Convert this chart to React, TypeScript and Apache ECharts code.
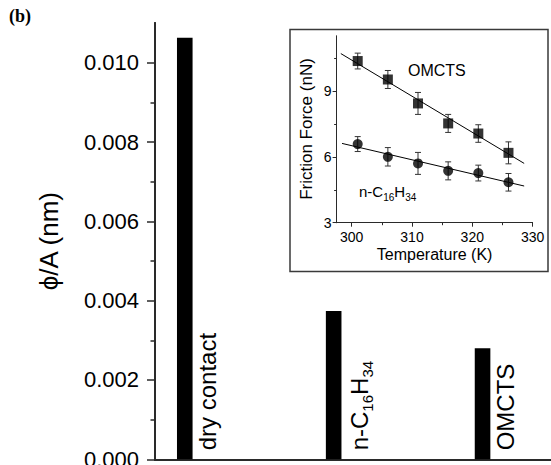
import React, { useEffect, useRef } from 'react';
import * as echarts from 'echarts';

// ---- main bar chart data ----
const barCategories = ['dry contact', 'n-C16H34', 'OMCTS'];
const barPositions = [1, 2, 3];
const barValues = [0.01063, 0.00374, 0.0028];
const mainYTicks = [0, 0.002, 0.004, 0.006, 0.008, 0.01];
const mainYMinorTicks = [0.001, 0.003, 0.005, 0.007, 0.009];

// ---- inset data ----
const insetTemps = [301, 306, 311, 316, 321, 326];
const omctsForce = [10.36, 9.52, 8.43, 7.52, 7.06, 6.18];
const omctsErr = [0.36, 0.41, 0.5, 0.41, 0.4, 0.5];
const hexaForce = [6.58, 6.0, 5.7, 5.36, 5.26, 4.84];
const hexaErr = [0.34, 0.42, 0.5, 0.41, 0.36, 0.4];
const omctsFit = [[298.2, 10.7], [328.6, 5.7]];
const hexaFit = [[298.4, 6.61], [328.6, 4.67]];
const insetXTicks = [300, 310, 320, 330];
const insetXMinor = [305, 315, 325];
const insetYTicks = [3, 6, 9];
const insetYMinor = [4.5, 7.5, 10.5];

const FONT = '"Liberation Sans", Arial, Helvetica, sans-serif';
const AXIS = '#2a2a2a';

const toRich = (s: string) => s.replace(/(\d+)/g, '{s|$1}');

function errorBars(values: number[], errs: number[]) {
  return {
    type: 'custom',
    xAxisIndex: 2,
    yAxisIndex: 2,
    z: 3,
    data: insetTemps.map((t, i) => [t, values[i] - errs[i], values[i] + errs[i]]),
    encode: { x: 0, y: [1, 2] },
    renderItem: (params: any, api: any) => {
      const lo = api.coord([api.value(0), api.value(1)]);
      const hi = api.coord([api.value(0), api.value(2)]);
      const cap = 3;
      const st = { stroke: '#333', lineWidth: 1 };
      return {
        type: 'group',
        children: [
          { type: 'line', shape: { x1: hi[0], y1: hi[1], x2: lo[0], y2: lo[1] }, style: st },
          { type: 'line', shape: { x1: hi[0] - cap, y1: hi[1], x2: hi[0] + cap, y2: hi[1] }, style: st },
          { type: 'line', shape: { x1: lo[0] - cap, y1: lo[1], x2: lo[0] + cap, y2: lo[1] }, style: st },
        ],
      };
    },
  };
}

export default function App() {
  const ref = useRef<HTMLDivElement>(null);
  useEffect(() => {
    if (!ref.current) return;
    const chart = echarts.init(ref.current, null, { renderer: 'svg' });
    const option: any = {
      animation: false,
      backgroundColor: '#fff',
      textStyle: { fontFamily: FONT },
      grid: [
        { left: 155, right: -6, top: 23.1, bottom: 5.7, containLabel: false, outerBoundsMode: 'none' },
        { left: 336.6, right: 18.4, top: 36, bottom: 242.3, containLabel: false, outerBoundsMode: 'none' },
      ],
      xAxis: [
        {
          type: 'value', gridIndex: 0, min: 0.8, max: 3.5, position: 'bottom',
          axisLine: { show: true, lineStyle: { color: AXIS, width: 2 } },
          axisTick: { show: false }, axisLabel: { show: false }, splitLine: { show: false },
        },
        {
          type: 'value', gridIndex: 0, min: 0.8, max: 3.5, position: 'top',
          axisLine: { show: true, lineStyle: { color: AXIS, width: 2 } },
          axisTick: { show: false }, axisLabel: { show: false }, splitLine: { show: false },
        },
        {
          type: 'value', gridIndex: 1, min: 297.5, max: 330, position: 'bottom',
          axisLine: { show: true, lineStyle: { color: AXIS, width: 1 } },
          axisTick: { show: true, customValues: insetXTicks, length: 4, lineStyle: { color: AXIS } },
          axisLabel: { show: true, customValues: insetXTicks, fontSize: 14, color: '#000', margin: 7, fontFamily: FONT },
          splitLine: { show: false },
        },
        {
          type: 'value', gridIndex: 1, min: 297.5, max: 330, position: 'bottom',
          axisLine: { show: true, lineStyle: { color: AXIS, width: 1 } },
          axisTick: { show: true, customValues: insetXMinor, length: 2.5, lineStyle: { color: AXIS } },
          axisLabel: { show: false }, splitLine: { show: false },
        },
      ],
      yAxis: [
        {
          type: 'value', gridIndex: 0, min: 0, max: 0.011, position: 'left',
          name: 'ϕ/A (nm)', nameLocation: 'middle', nameGap: 93, nameMoveOverlap: false,
          nameTextStyle: { fontSize: 26, color: '#000', fontFamily: FONT },
          axisLine: { show: true, lineStyle: { color: AXIS, width: 2 } },
          axisTick: { show: true, customValues: mainYTicks, length: 8, lineStyle: { color: AXIS, width: 1.5 } },
          axisLabel: {
            show: true, customValues: mainYTicks, fontSize: 22, color: '#000', margin: 16, fontFamily: FONT,
            formatter: (v: number) => v.toFixed(3),
          },
          splitLine: { show: false },
        },
        {
          type: 'value', gridIndex: 0, min: 0, max: 0.011, position: 'left',
          axisLine: { show: true, lineStyle: { color: AXIS, width: 2 } },
          axisTick: { show: true, customValues: mainYMinorTicks, length: 4.5, lineStyle: { color: AXIS, width: 1.5 } },
          axisLabel: { show: false }, splitLine: { show: false },
        },
        {
          type: 'value', gridIndex: 1, min: 3, max: 11.5, position: 'left',
          axisLine: { show: true, lineStyle: { color: AXIS, width: 1 } },
          axisTick: { show: true, customValues: insetYTicks, length: 4, lineStyle: { color: AXIS } },
          axisLabel: { show: true, customValues: insetYTicks, fontSize: 14, color: '#000', margin: 5, fontFamily: FONT },
          splitLine: { show: false },
        },
        {
          type: 'value', gridIndex: 1, min: 3, max: 11.5, position: 'left',
          axisLine: { show: true, lineStyle: { color: AXIS, width: 1 } },
          axisTick: { show: true, customValues: insetYMinor, length: 2.5, lineStyle: { color: AXIS } },
          axisLabel: { show: false }, splitLine: { show: false },
        },
      ],
      series: [
        {
          type: 'bar', xAxisIndex: 0, yAxisIndex: 0, barWidth: 15.6,
          itemStyle: { color: '#000' },
          data: barPositions.map((x, i) => ({
            value: [x, barValues[i]],
            label: { formatter: toRich(barCategories[i]) },
          })),
          label: {
            show: true, position: ['100%', '100%'], offset: [9, 3], rotate: 90,
            align: 'left', verticalAlign: 'top', fontSize: 24, color: '#000', fontFamily: FONT,
            rich: { s: { fontSize: 15, lineHeight: 31, verticalAlign: 'bottom', color: '#000', fontFamily: FONT } },
          },
        },
        {
          type: 'line', xAxisIndex: 2, yAxisIndex: 2, data: omctsFit, showSymbol: false, z: 2,
          lineStyle: { color: '#000', width: 1 },
        },
        {
          type: 'line', xAxisIndex: 2, yAxisIndex: 2, data: hexaFit, showSymbol: false, z: 2,
          lineStyle: { color: '#000', width: 1 },
        },
        errorBars(omctsForce, omctsErr),
        errorBars(hexaForce, hexaErr),
        {
          type: 'scatter', xAxisIndex: 2, yAxisIndex: 2, symbol: 'rect', symbolSize: 10, z: 4,
          itemStyle: { color: '#000' },
          data: insetTemps.map((t, i) => [t, omctsForce[i]]),
        },
        {
          type: 'scatter', xAxisIndex: 2, yAxisIndex: 2, symbol: 'circle', symbolSize: 10, z: 4,
          itemStyle: { color: '#000' },
          data: insetTemps.map((t, i) => [t, hexaForce[i]]),
        },
      ],
      graphic: [
        {
          type: 'rect', z: -1, silent: true,
          shape: { x: 290, y: 29.5, width: 258, height: 242 },
          style: { fill: 'none', stroke: '#3a3a3a', lineWidth: 1.5 },
        },
        {
          type: 'text', x: 9, y: 7,
          style: { text: '(b)', fontSize: 18, fontWeight: 'bold', fontFamily: '"Liberation Serif", "Times New Roman", serif', fill: '#000' },
        },
        {
          type: 'text', x: 434.6, y: 246, silent: true,
          style: { text: 'Temperature (K)', fontSize: 16, fontFamily: FONT, fill: '#000', align: 'center', verticalAlign: 'top' },
        },
        {
          type: 'text', x: 298, y: 129, rotation: Math.PI / 2, silent: true,
          style: { text: 'Friction Force (nN)', fontSize: 17, fontFamily: FONT, fill: '#000', align: 'center', verticalAlign: 'top' },
        },
        {
          type: 'text', x: 408, y: 62,
          style: { text: barCategories[2], fontSize: 16, fontFamily: FONT, fill: '#000' },
        },
        {
          type: 'text', x: 359, y: 180,
          style: {
            text: toRich(barCategories[1]), fontSize: 15, fontFamily: FONT, fill: '#000',
            rich: { s: { fontSize: 10, lineHeight: 22, verticalAlign: 'bottom', fontFamily: FONT, fill: '#000' } },
          },
        },
      ],
    };
    chart.setOption(option);
    return () => chart.dispose();
  }, []);
  return <div ref={ref} style={{ position: 'fixed', left: 0, top: 0, width: 551, height: 465 }} />;
}
